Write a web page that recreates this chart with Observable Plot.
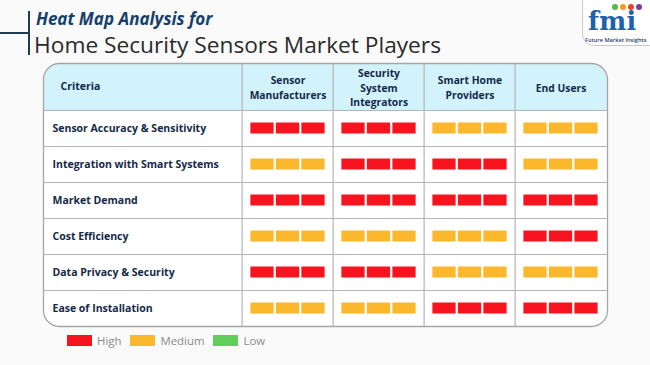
<!DOCTYPE html>
<html><head><meta charset="utf-8">
<script src="https://cdn.jsdelivr.net/npm/d3@7"></script>
<script src="https://cdn.jsdelivr.net/npm/@observablehq/plot@0.6"></script>
<style>
html,body{margin:0;padding:0;background:#fafafa;}
#wrap{position:relative;width:650px;height:365px;overflow:hidden;font-family:"Open Sans",sans-serif;background:#fafafa;}
.hline{position:absolute;left:0;top:32px;width:29px;height:2px;background:#1d3c52;}
.vline{position:absolute;left:28px;top:11px;width:2px;height:44px;background:#1d3c52;}
.t1{position:absolute;left:36px;top:9px;font-size:17px;line-height:20px;font-weight:700;font-style:italic;color:#15406c;white-space:nowrap;}
.t2{position:absolute;left:34px;top:31.5px;font-size:22.7px;line-height:26px;font-weight:400;color:#2a2a2a;white-space:nowrap;}
.logo{position:absolute;left:582px;top:-1px;width:69px;height:47px;background:#fff;border:1px solid #c9c9c9;border-bottom-left-radius:12px;box-sizing:border-box;}
.logo .fmi{position:absolute;left:5px;top:10px;font-family:"DejaVu Serif",serif;font-weight:700;font-size:25.5px;line-height:22px;color:#2160ad;letter-spacing:0.3px;}
.logo .dots{position:absolute;left:29px;top:4px;display:flex;gap:2px;}
.logo .dots span{display:block;width:6px;height:6px;border-radius:50%;}
.logo .sub{position:absolute;left:2px;top:37px;font-size:5.6px;line-height:7px;color:#1f3c6b;white-space:nowrap;font-weight:600;}
#chart{position:absolute;left:0;top:61px;}
#legend{position:absolute;left:67px;top:324px;}
#legend span{margin-right:9px !important;}
#legend svg{margin-right:5px !important;}
</style></head><body>
<div id="wrap">
  <div class="hline"></div><div class="vline"></div>
  <div class="t1">Heat Map Analysis for</div>
  <div class="t2">Home Security Sensors Market Players</div>
  <div class="logo">
    <div class="dots"><span style="background:#55b947"></span><span style="background:#f39b1f"></span><span style="background:#e9432c"></span><span style="background:#7b3f97"></span></div>
    <div class="fmi">fmi</div>
    <div class="sub">Future Market Insights</div>
  </div>
  <div id="chart"></div>
  <div id="legend"></div>
</div>
<script>
// ---- data ----
const criteria = [
  "Sensor Accuracy & Sensitivity",
  "Integration with Smart Systems",
  "Market Demand",
  "Cost Efficiency",
  "Data Privacy & Security",
  "Ease of Installation"
];
const players = ["Sensor Manufacturers", "Security System Integrators", "Smart Home Providers", "End Users"];
const playerLabels = ["Sensor\nManufacturers", "Security\nSystem\nIntegrators", "Smart Home\nProviders", "End Users"];
const sensorManufacturers = ["High", "Medium", "High", "Medium", "High", "Medium"];
const securitySystemIntegrators = ["High", "High", "High", "Medium", "High", "Medium"];
const smartHomeProviders = ["Medium", "High", "High", "Medium", "Medium", "High"];
const endUsers = ["Medium", "Medium", "High", "High", "Medium", "High"];
const levels = ["High", "Medium", "Low"];
const levelColors = ["#f7141f", "#fcb82c", "#5fcf5a"];

const columns = [sensorManufacturers, securitySystemIntegrators, smartHomeProviders, endUsers];
const cells = [];
criteria.forEach((c, i) => players.forEach((p, j) => cells.push({criterion: c, player: p, level: columns[j][i]})));

// ---- layout ----
const W = 650, H = 267, mt = 49, mb = 2, ml = 240, mr = 43;
const hdrH = 47, critW = 197;
const rowBW = (H - mt - mb) / criteria.length;
const colBW = (W - ml - mr) / players.length;
const seg = 24, gap = 1.5;
const segPad = (colBW - (3 * seg + 2 * gap)) / 2;
const barH = 11, barPad = (rowBW - barH) / 2;
const navy = "#14294a", gridC = "#b4b4b4";

const segMarks = [0, 1, 2].map(k => Plot.cell(cells, {
  x: "player", y: "criterion", fill: "level",
  insetLeft: segPad + k * (seg + gap),
  insetRight: colBW - segPad - k * (seg + gap) - seg,
  insetTop: barPad, insetBottom: barPad
}));

const chart = Plot.plot({
  width: W, height: H,
  marginTop: mt, marginBottom: mb, marginLeft: ml, marginRight: mr,
  style: {background: "transparent", fontFamily: "Open Sans"},
  x: {type: "band", domain: players, padding: 0, axis: null},
  y: {type: "band", domain: criteria, padding: 0, axis: null},
  color: {type: "ordinal", domain: levels, range: levelColors},
  marks: [
    Plot.frame({fill: "white", stroke: "none", insetLeft: -critW, insetTop: -hdrH, rx: 16}),
    Plot.frame({fill: "#d2f3fb", stroke: "none", insetLeft: -critW, insetTop: -hdrH, insetBottom: (H - mt - mb) - 30, rx: 16}),
    Plot.frame({fill: "white", stroke: "none", insetLeft: -critW, insetBottom: (H - mt - mb) - 30}),
    Plot.ruleY(criteria, {y: d => d, dy: -rowBW / 2, insetLeft: -critW, stroke: gridC, strokeWidth: 1.2}),
    Plot.ruleX(players, {x: d => d, dx: -colBW / 2, insetTop: -hdrH, stroke: gridC, strokeWidth: 1.2}),
    ...segMarks,
    Plot.frame({fill: "none", stroke: "#a6a6a6", strokeWidth: 1.3, insetLeft: -critW, insetTop: -hdrH, rx: 16}),
    Plot.text(criteria, {y: d => d, frameAnchor: "left", dx: -188, textAnchor: "start", fontWeight: 700, fontSize: 10.5, fill: navy}),
    Plot.text(players, {x: d => d, text: (d, i) => playerLabels[i], frameAnchor: "top", dy: -23.5, lineAnchor: "middle", lineHeight: 1.37, fontWeight: 700, fontSize: 10.3, fill: navy}),
    Plot.text(["Criteria"], {frameAnchor: "top-left", dx: -180, dy: -23.5, textAnchor: "start", lineAnchor: "middle", fontWeight: 700, fontSize: 10.5, fill: navy})
  ]
});
document.getElementById("chart").appendChild(chart);

const legend = Plot.legend({
  color: {type: "ordinal", domain: levels, range: levelColors},
  legend: "swatches", swatchWidth: 25, swatchHeight: 11,
  style: {fontFamily: "Open Sans", fontSize: "11.4px", color: "#8a8a8a"}
});
document.getElementById("legend").appendChild(legend);
</script>
</body></html>
